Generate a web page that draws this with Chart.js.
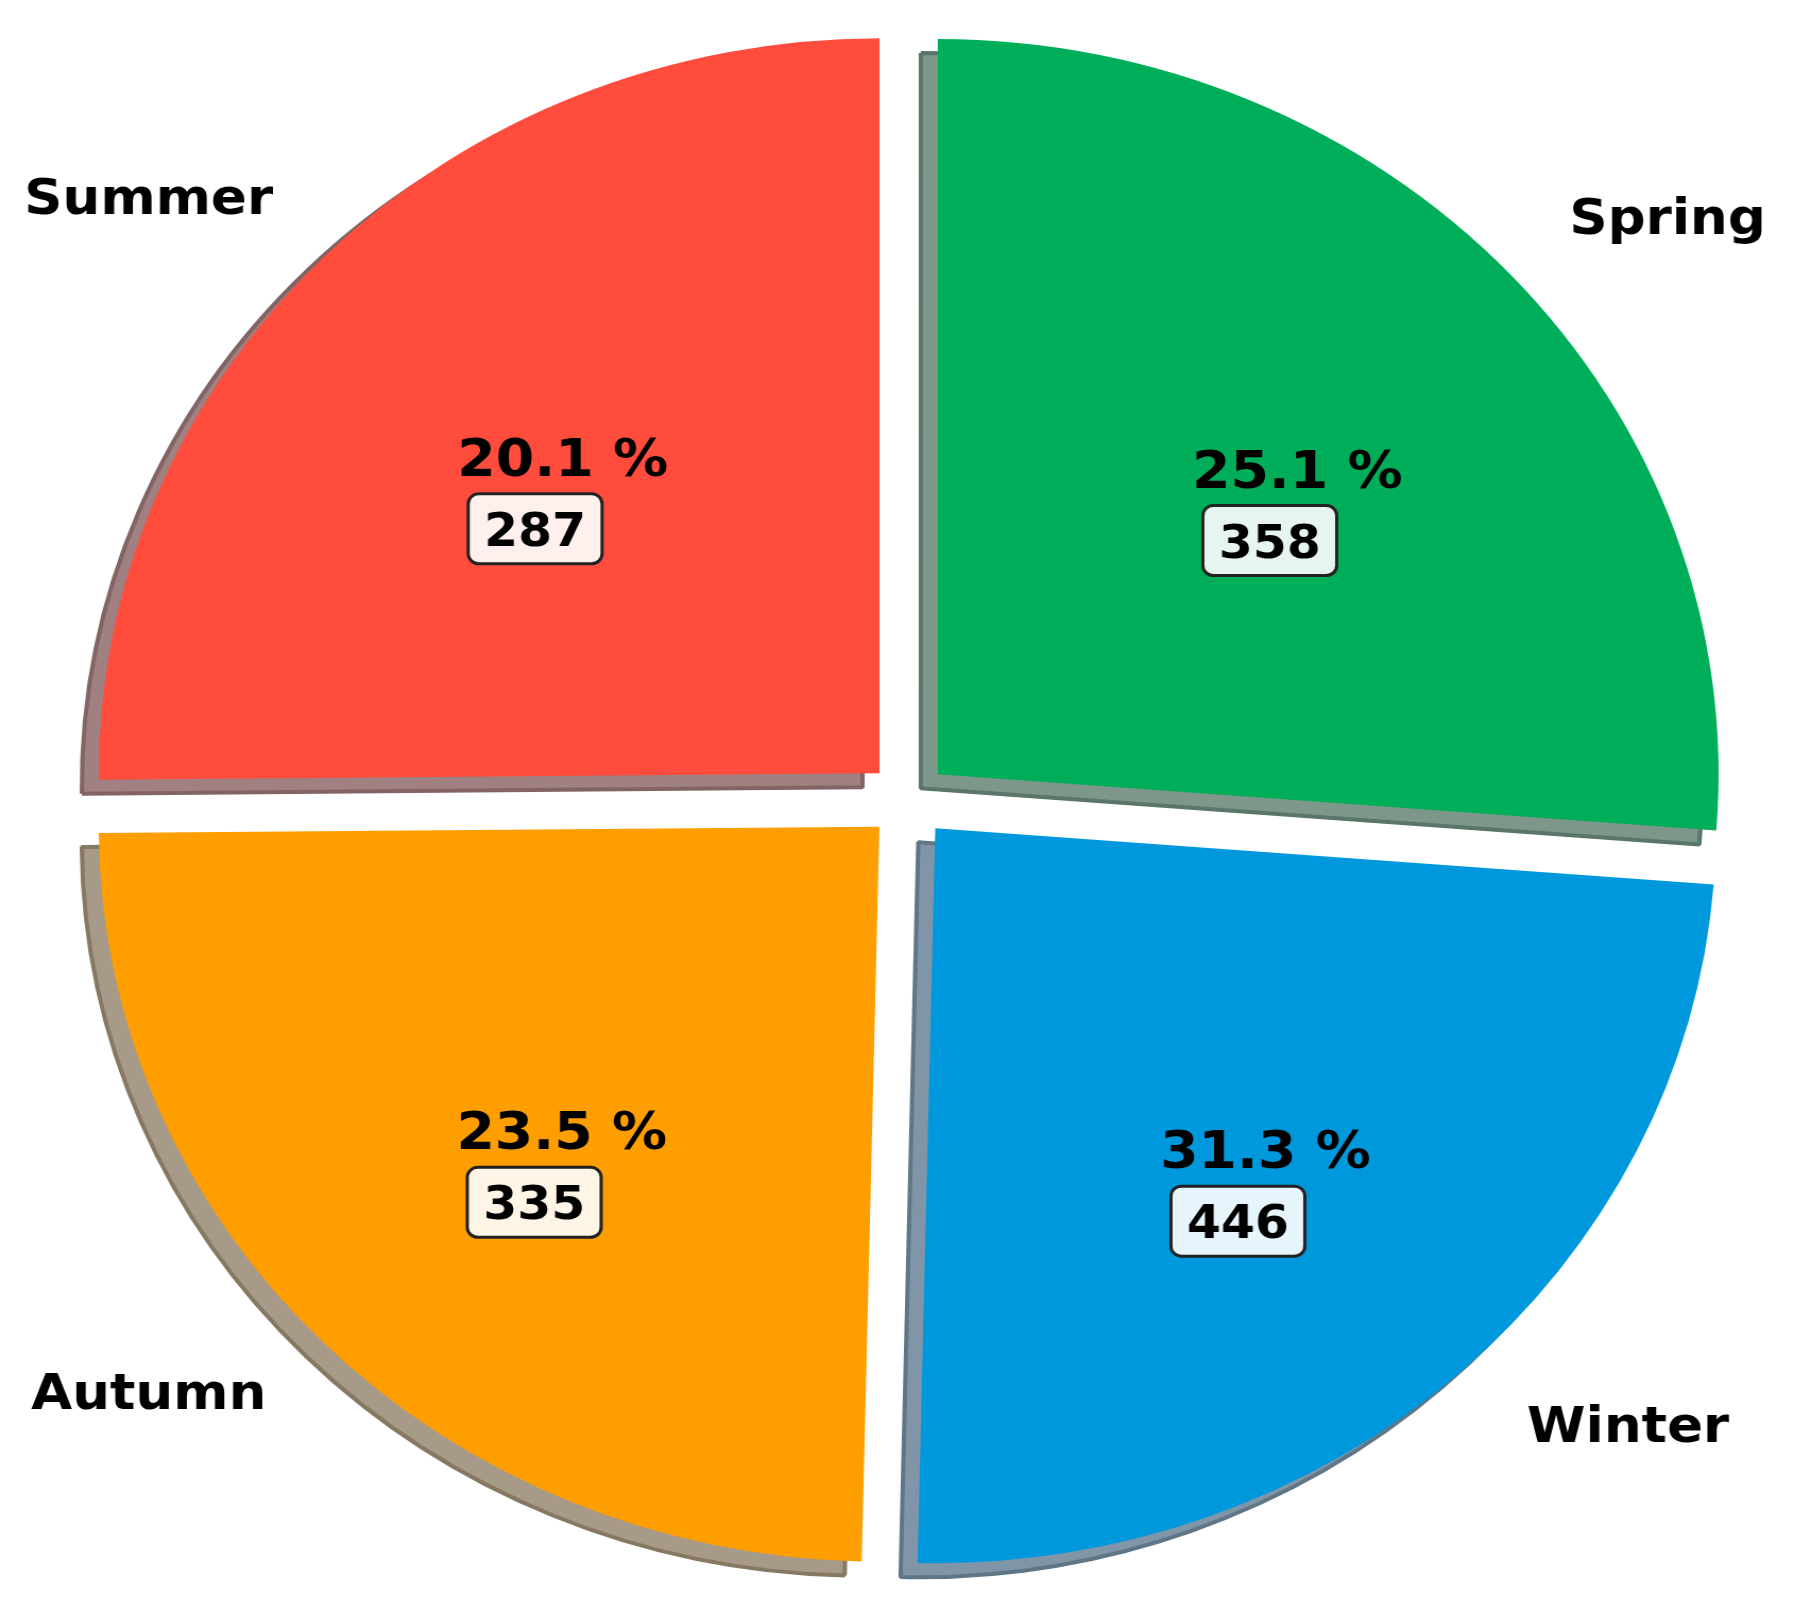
<!DOCTYPE html>
<html>
<head>
<meta charset="utf-8">
<script src="https://cdn.jsdelivr.net/npm/chart.js@4"></script>
<style>
  body { margin: 0; background: #fff; }
</style>
</head>
<body>
<!-- the reference is stretched a little in x, so the canvas is too -->
<canvas id="chart" width="1689" height="1611" style="display:block;width:1794px;height:1611px"></canvas>
<script>
// clockwise from 12 o'clock
const seasons = ['Spring', 'Winter', 'Autumn', 'Summer'];
const counts = [358, 446, 335, 287];
const percents = [25.1, 31.3, 23.5, 20.1];
// slice sizes as they are drawn in the picture (degrees), they are not proportional to the counts
const sliceDegrees = [94.4, 86.9, 88.2, 90.5];

const colors = ['#00ae5a', '#0098dd', '#ff9e00', '#ff4c3c'];
const shadowFill = ['#7d988a', '#8096a8', '#a89a88', '#a08080'];
const shadowEdge = ['#5a7668', '#5f7687', '#877862', '#826464'];
const boxFill = ['#e6f6ee', '#e6f4fb', '#fff5e6', '#fff0ee'];

const OFFSET = 152;   // arc moves out by offset / 4
const FONT = '"DejaVu Sans", Verdana, sans-serif';

// grey copy of every slice, drawn down-left of it
const pieShadow = {
  id: 'pieShadow',
  beforeDatasetsDraw(chart) {
    const ctx = chart.ctx;
    chart.getDatasetMeta(0).data.forEach((arc, i) => {
      const opts = arc.options;
      arc.options = Object.assign({}, opts, {
        backgroundColor: shadowFill[i],
        borderColor: shadowEdge[i],
        borderWidth: 4
      });
      ctx.save();
      ctx.translate(-16, 14);
      arc.draw(ctx);
      ctx.restore();
      arc.options = opts;
    });
  }
};

const sliceLabels = {
  id: 'sliceLabels',
  afterDatasetsDraw(chart) {
    const ctx = chart.ctx;
    chart.getDatasetMeta(0).data.forEach((arc, i) => {
      const {x, y, startAngle, endAngle, outerRadius} =
        arc.getProps(['x', 'y', 'startAngle', 'endAngle', 'outerRadius'], true);
      const mid = (startAngle + endAngle) / 2;
      const c = Math.cos(mid), s = Math.sin(mid);
      const r = OFFSET / 4 + outerRadius * 0.6;
      const px = x + c * r + 15, py = y + s * r - 6;

      ctx.save();
      ctx.textAlign = 'center';
      ctx.textBaseline = 'alphabetic';
      ctx.fillStyle = '#000';

      ctx.font = 'bold 52px ' + FONT;
      ctx.fillText(percents[i].toFixed(1) + ' %', px, py + 19);

      // count in a rounded box
      ctx.font = 'bold 46px ' + FONT;
      const txt = String(counts[i]);
      const bw = ctx.measureText(txt).width + 30, bh = 70;
      const bx = px - 26, by = py + 72;
      ctx.beginPath();
      ctx.roundRect(bx - bw / 2, by - bh / 2, bw, bh, 10);
      ctx.fillStyle = boxFill[i];
      ctx.fill();
      ctx.lineWidth = 3;
      ctx.strokeStyle = '#222';
      ctx.stroke();
      ctx.fillStyle = '#000';
      ctx.fillText(txt, bx, by + 17);

      // season name outside the pie, kept inside the canvas
      ctx.font = 'bold 50px ' + FONT;
      const dx = Math.max(-715, Math.min(715, c * 1010));
      ctx.fillText(seasons[i], x + dx, y - 6 + s * 850 + 18);
      ctx.restore();
    });
  }
};

new Chart(document.getElementById('chart'), {
  type: 'pie',
  data: {
    labels: seasons,
    datasets: [{
      data: sliceDegrees,
      backgroundColor: colors,
      borderWidth: 0,
      offset: OFFSET
    }]
  },
  options: {
    responsive: false,
    animation: false,
    radius: 735,
    layout: { padding: { left: 21, bottom: 11 } },
    plugins: {
      legend: { display: false },
      tooltip: { enabled: false }
    }
  },
  plugins: [pieShadow, sliceLabels]
});
</script>
</body>
</html>
